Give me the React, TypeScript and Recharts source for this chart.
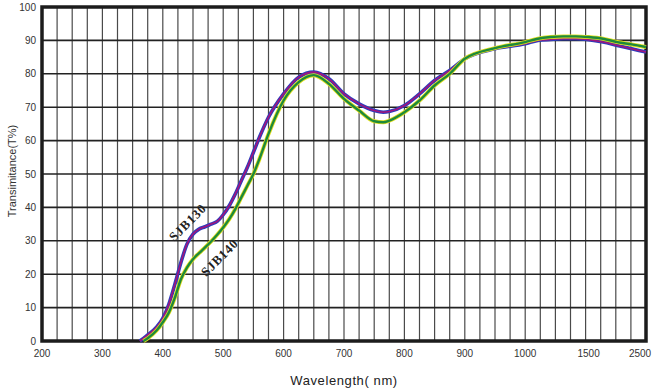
import { LineChart, Line, XAxis, YAxis, CartesianGrid, ReferenceArea, ReferenceDot } from "recharts";

// wavelength (nm) sample points
const WAVELENGTHS = [362, 368, 375, 390, 400, 410, 420, 430, 440, 450, 460, 470, 480, 490, 500, 510, 520, 530, 540, 550, 560, 575, 600, 625, 650, 675, 700, 725, 750, 765, 775, 800, 825, 850, 875, 900, 950, 1000, 1100, 1200, 1300, 1400, 1500, 1750, 2000, 2250, 2500];

const SJB130 = [0, 0.8, 1.8, 4.2, 6.8, 11, 17, 23.5, 29, 32, 33.5, 34.2, 35, 35.8, 37.8, 40.5, 44, 48, 52, 56.5, 61, 67, 74, 79, 80.5, 78.5, 74, 71, 69, 68.5, 68.7, 70.5, 74, 78, 81, 84.5, 87.5, 89, 90, 90.3, 90.5, 90.5, 90.2, 89.5, 88.5, 87.5, 86.5];

const SJB140 = [null, 0, 0.8, 3.2, 5.6, 8.5, 13, 18.5, 22, 24.5, 26.3, 28, 29.8, 31.8, 34, 36.5, 39.5, 43, 46.5, 50, 54.5, 62, 72, 77.5, 79.6, 77, 72.5, 69, 65.8, 65.5, 66, 68.5, 72, 76.5, 80, 84.5, 87.7, 89.5, 90.5, 91, 91.2, 91.2, 91, 90.5, 89.5, 88.8, 88];

const X_LABELS = [200, 300, 400, 500, 600, 700, 800, 900, 1000, 1500, 2500];
const Y_TICKS = [0, 10, 20, 30, 40, 50, 60, 70, 80, 90, 100];

// curve captions: [text, wavelength, value]
const CAPTIONS: [string, number, number][] = [
  ["SJB130", 441, 35.5],
  ["SJB140", 494, 25],
];

// the paper axis is linear to 1000 nm and then squeezed
const pos = (w: number) => {
  if (w <= 1000) return (w - 200) / 100;
  if (w <= 1500) return 8 + ((w - 1000) / 500) * 1.05;
  return 9.05 + ((w - 1500) / 1000) * 0.95;
};

const data = WAVELENGTHS.map((w, i) => ({ x: pos(w), sjb130: SJB130[i], sjb140: SJB140[i] }));
const labelTicks = X_LABELS.map(pos);
const gridTicks = Array.from({ length: 41 }, (_, i) => i * 0.25);

const FONT = '"Liberation Sans", Arial, sans-serif';

const XTick = (props: any) => {
  const { x, y, payload, index } = props;
  const shift = index === X_LABELS.length - 1 ? -6 : 0;
  return (
    <text x={x + shift} y={y + 8} textAnchor="middle" fontSize={10} fontFamily={FONT} fill="#333">
      {X_LABELS[index] ?? payload.value}
    </text>
  );
};

export default function App() {
  return (
    <div style={{ position: "absolute", left: 0, top: 0, width: 660, height: 390, background: "#fff" }}>
      <LineChart width={660} height={390} data={data} margin={{ top: 7, right: 14, left: 2, bottom: 0 }}>
        <CartesianGrid xAxisId="grid" horizontal={false} verticalValues={gridTicks} stroke="#4a4a4a" strokeWidth={1.2} />
        <CartesianGrid xAxisId="grid" vertical={false} stroke="#222" strokeWidth={1.6} />
        <XAxis
          xAxisId="grid"
          dataKey="x"
          type="number"
          domain={[0, 10]}
          ticks={gridTicks}
          interval={0}
          tick={() => <g />}
          tickLine={false}
          axisLine={false}
          height={0}
        />
        <XAxis
          xAxisId="lbl"
          dataKey="x"
          type="number"
          domain={[0, 10]}
          ticks={labelTicks}
          interval={0}
          tick={<XTick />}
          tickLine={false}
          axisLine={false}
          height={49}
          label={{
            content: (p: any) => {
              const vb = p.viewBox || { x: 42, y: 341, width: 604 };
              return (
                <text x={vb.x + vb.width / 2} y={vb.y + 44} textAnchor="middle" fontSize={13} fontFamily={FONT} fill="#222" letterSpacing={0.6}>
                  Wavelength( nm)
                </text>
              );
            },
          }}
        />
        <YAxis
          type="number"
          domain={[0, 100]}
          ticks={Y_TICKS}
          interval={0}
          width={40}
          tickLine={false}
          axisLine={false}
          tickSize={4}
          tickMargin={2}
          tick={{ fontSize: 10, fontFamily: FONT, fill: "#333" }}
          label={{
            content: (p: any) => {
              const vb = p.viewBox || { x: 2, y: 7, height: 334 };
              const cx = vb.x + 10;
              const cy = vb.y + vb.height / 2 - 3;
              return (
                <text x={cx} y={cy} transform={`rotate(-90 ${cx} ${cy})`} textAnchor="middle" dominantBaseline="central" fontSize={11} fontFamily={FONT} fill="#333">
                  Transimitance(T%)
                </text>
              );
            },
          }}
        />
        <ReferenceArea xAxisId="grid" x1={0} x2={10} y1={0} y2={100} fill="none" stroke="#1c1c1c" strokeWidth={3.5} />
        <Line xAxisId="grid" type="monotone" dataKey="sjb130" stroke="#2b3dbd" strokeWidth={3.6} dot={false} isAnimationActive={false} />
        <Line xAxisId="grid" type="monotone" dataKey="sjb130" stroke="#a0157c" strokeWidth={1.6} dot={false} isAnimationActive={false} />
        <Line xAxisId="grid" type="monotone" dataKey="sjb140" stroke="#e3df1e" strokeWidth={4} dot={false} isAnimationActive={false} />
        <Line xAxisId="grid" type="monotone" dataKey="sjb140" stroke="#1e8a3a" strokeWidth={2.4} dot={false} isAnimationActive={false} />
        {CAPTIONS.map(([text, w, v]) => (
          <ReferenceDot
            key={text}
            xAxisId="grid"
            x={pos(w)}
            y={v}
            r={0}
            shape={(p: any) => (
              <text
                x={p.cx}
                y={p.cy}
                transform={`rotate(-45 ${p.cx} ${p.cy})`}
                textAnchor="middle"
                dominantBaseline="central"
                fontSize={13}
                fontWeight="bold"
                letterSpacing={0.8}
                fontFamily='"Liberation Serif", "Times New Roman", serif'
                fill="#222"
              >
                {text}
              </text>
            )}
          />
        ))}
      </LineChart>
    </div>
  );
}
